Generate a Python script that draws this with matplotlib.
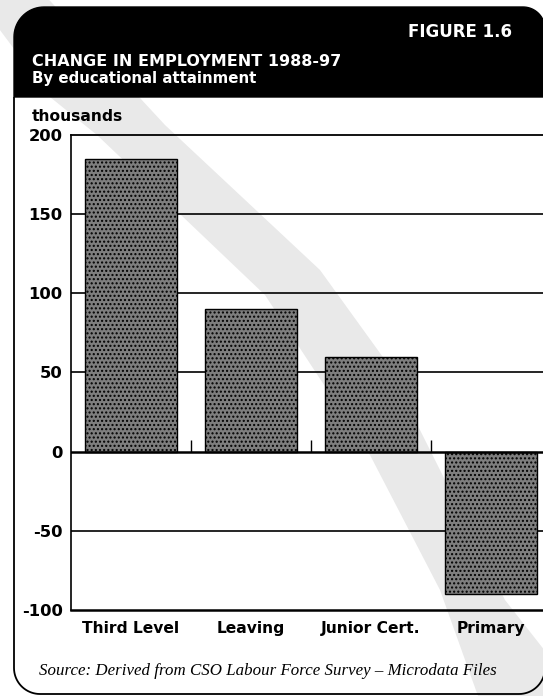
import numpy as np
import matplotlib
matplotlib.use("Agg")
import matplotlib.pyplot as plt
from matplotlib.path import Path
from matplotlib.patches import PathPatch, Polygon

# Employment change 1988-97 by education level (thousands)
categories = ["Third Level", "Leaving", "Junior Cert.", "Primary"]
change = [185, 90, 60, -90]
y_ticks = [-100, -50, 0, 50, 100, 150, 200]
y_tick_labels = ["-100", "-50", "0", "50", "100", "150", "200"]

W, H = 543, 696
SANS = "DejaVu Sans"

fig = plt.figure(figsize=(W / 100, H / 100), dpi=100)
fig.patch.set_facecolor("white")

# overlay in pixel units for the frame, header and notes
bg = fig.add_axes([0, 0, 1, 1])
bg.set_xlim(0, W)
bg.set_ylim(H, 0)
bg.axis("off")


def arc(cx, cy, r, a0, a1, n=20):
    t = np.radians(np.linspace(a0, a1, n))
    return list(zip(cx + r * np.cos(t), cy - r * np.sin(t)))


# light stippled diagonal band across the page
band_left = [(-30, -10), (50, 97), (97, 135), (265, 295), (370, 455), (440, 590), (478, 696)]
band_right = [(560, 696), (560, 670), (505, 600), (445, 480), (385, 360), (320, 270),
              (165, 125), (40, -10)]
bg.add_patch(Polygon(band_left + band_right, closed=True, facecolor="#e9e9e9",
                     edgecolor="none", zorder=1))

# black header with rounded top corners
L, R, T, HB = 14, 545, 7, 97
r1, r2 = 30, 22
hdr = [(L, HB), (L, T + r1)]
hdr += arc(L + r1, T + r1, r1, 180, 90)
hdr += [(R - r2, T)]
hdr += arc(R - r2, T + r2, r2, 90, 0)
hdr += [(R, HB), (L, HB)]
codes = [Path.MOVETO] + [Path.LINETO] * (len(hdr) - 2) + [Path.CLOSEPOLY]
bg.add_patch(PathPatch(Path(hdr, codes), facecolor="black", edgecolor="black", lw=1, zorder=3))

# frame below the header, rounded at the bottom
B, r3 = 694, 26
frm = [(L, HB), (L, B - r3)]
frm += arc(L + r3, B - r3, r3, 180, 270)
frm += [(R - r3, B)]
frm += arc(R - r3, B - r3, r3, 270, 360)
frm += [(R, HB)]
codes = [Path.MOVETO] + [Path.LINETO] * (len(frm) - 1)
bg.add_patch(PathPatch(Path(frm, codes), facecolor="none", edgecolor="black", lw=1.3, zorder=3))

bg.text(512, 37, "FIGURE 1.6", color="white", fontsize=12, fontweight="bold",
        family=SANS, ha="right", va="baseline", zorder=4)
bg.text(32, 66, "CHANGE IN EMPLOYMENT 1988-97", color="white", fontsize=11.5,
        fontweight="bold", family=SANS, ha="left", va="baseline", zorder=4)
bg.text(32, 83, "By educational attainment", color="white", fontsize=10.8,
        fontweight="bold", family=SANS, ha="left", va="baseline", zorder=4)
bg.text(32, 121, "thousands", color="black", fontsize=11.2, fontweight="bold",
        family=SANS, ha="left", va="baseline", zorder=4)
bg.text(39, 675, "Source: Derived from CSO Labour Force Survey \u2013 Microdata Files",
        color="black", fontsize=12.2, style="italic", family="Liberation Serif",
        ha="left", va="baseline", zorder=4)

# bar chart, right side runs off the page
ax_l, ax_r, ax_t, ax_b = 71, W, 135, 610
ax = fig.add_axes([ax_l / W, 1 - ax_b / H, (ax_r - ax_l) / W, (ax_b - ax_t) / H])
ax.set_facecolor("none")

x = np.arange(len(categories))
ax.bar(x, change, width=0.77, color="#7e7e7e", edgecolor="black", linewidth=1.0,
       hatch="....", zorder=3)

for yv in [150, 100, 50, -50]:
    ax.axhline(yv, color="black", lw=1.2, zorder=1)
ax.axhline(0, color="black", lw=1.8, zorder=4)

# short separators between categories
ax.vlines(x[:-1] + 0.5, 0, 7.6, color="black", lw=1.0, zorder=4)

ax.set_ylim(-100, 200)
ax.set_xlim(-0.5, (ax_r - 131) / 120)
ax.set_yticks(y_ticks)
ax.set_yticklabels(y_tick_labels)
ax.set_xticks(x)
ax.set_xticklabels(categories)
ax.tick_params(axis="both", length=0, colors="black")
ax.tick_params(axis="y", pad=6, labelsize=11.8)
ax.tick_params(axis="x", pad=8, labelsize=11.2)
for lab in ax.get_xticklabels() + ax.get_yticklabels():
    lab.set_fontweight("bold")
    lab.set_family(SANS)

ax.spines["right"].set_visible(False)
ax.spines["left"].set_linewidth(1.2)
ax.spines["top"].set_linewidth(1.3)
ax.spines["bottom"].set_linewidth(1.8)

fig.savefig("out.png", dpi=100)
